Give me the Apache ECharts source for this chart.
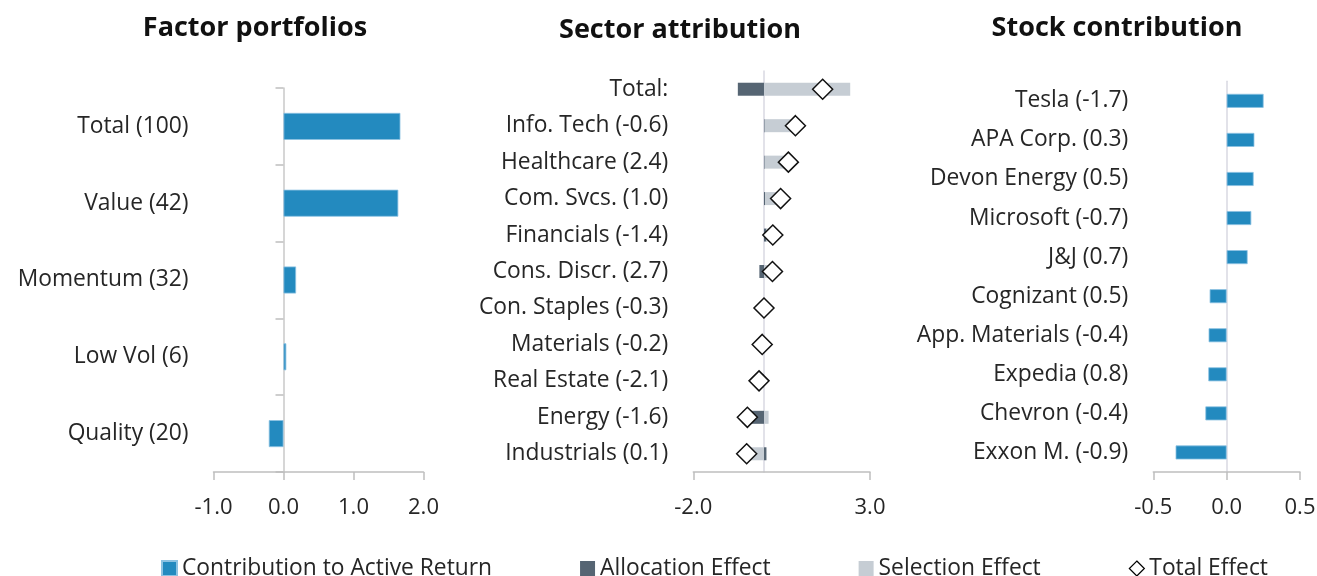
<!DOCTYPE html>
<html>
<head>
<meta charset="utf-8">
<script src="https://cdn.jsdelivr.net/npm/echarts@6/dist/echarts.min.js"></script>
<style>
  html, body { margin: 0; padding: 0; background: #fff; }
  #chart { width: 1317px; height: 576px; }
</style>
</head>
<body>
<div id="chart"></div>
<script>
// factor portfolios
const factors = ['Total (100)', 'Value (42)', 'Momentum (32)', 'Low Vol (6)', 'Quality (20)'];
const factorContrib = [1.67, 1.64, 0.18, 0.04, -0.21];

// sector attribution
const sectors = ['Total:', 'Info. Tech (-0.6)', 'Healthcare (2.4)', 'Com. Svcs. (1.0)', 'Financials (-1.4)',
  'Cons. Discr. (2.7)', 'Con. Staples (-0.3)', 'Materials (-0.2)', 'Real Estate (-2.1)', 'Energy (-1.6)', 'Industrials (0.1)'];
const allocation = [-0.74, 0.02, 0.02, 0.03, 0.07, -0.13, 0.01, -0.02, -0.03, -0.60, 0.07];
const selection = [2.44, 0.87, 0.67, 0.44, 0.18, 0.37, -0.01, -0.03, -0.11, 0.13, -0.56];
const totalEffect = [1.66, 0.89, 0.69, 0.47, 0.25, 0.24, 0.0, -0.05, -0.14, -0.47, -0.49];

// stock contribution
const stocks = ['Tesla (-1.7)', 'APA Corp. (0.3)', 'Devon Energy (0.5)', 'Microsoft (-0.7)', 'J&J (0.7)',
  'Cognizant (0.5)', 'App. Materials (-0.4)', 'Expedia (0.8)', 'Chevron (-0.4)', 'Exxon M. (-0.9)'];
const stockContrib = [0.252, 0.189, 0.184, 0.168, 0.143, -0.116, -0.123, -0.125, -0.145, -0.348];

const FONT = '"Open Sans", "Noto Sans", sans-serif';
const TXT = '#262626';
const BLUE = '#238ABF';
const DARK = '#566573';
const LIGHT = '#C6CDD4';

const chart = echarts.init(document.getElementById('chart'));

function valueAxis(idx, min, max, interval, custom) {
  const ax = {
    type: 'value', gridIndex: idx, min: min, max: max, interval: interval,
    splitLine: { show: false },
    axisLine: { show: true, lineStyle: { color: '#BFBFBF', width: 1.5 } },
    axisTick: { show: true, length: 8, lineStyle: { color: '#BFBFBF', width: 1.5 } },
    axisLabel: { color: TXT, fontSize: 22, fontFamily: FONT, margin: 25,
      formatter: v => v.toFixed(1) }
  };
  if (custom) {
    ax.axisLabel.customValues = custom;
    ax.axisTick.customValues = custom;
  }
  return ax;
}

function catAxis(idx, data, lineColor, ticks) {
  return {
    type: 'category', gridIndex: idx, data: data, inverse: true,
    axisLine: { show: true, onZero: true, lineStyle: { color: lineColor, width: 1.5 } },
    axisTick: { show: ticks, length: 8, lineStyle: { color: '#BFBFBF', width: 1.5 } },
    axisLabel: { color: TXT, fontSize: 22.8, fontFamily: FONT, margin: 25, padding: [4, 0, 0, 0] }
  };
}

const option = {
  animation: false,
  textStyle: { fontFamily: FONT },
  graphic: [
    { type: 'text', x: 255, y: 28, style: { text: 'Factor portfolios', fill: '#111', font: 'bold 27px ' + FONT, textAlign: 'center', textVerticalAlign: 'middle' } },
    { type: 'text', x: 680, y: 30, style: { text: 'Sector attribution', fill: '#111', font: 'bold 27px ' + FONT, textAlign: 'center', textVerticalAlign: 'middle' } },
    { type: 'text', x: 1117, y: 28, style: { text: 'Stock contribution', fill: '#111', font: 'bold 27px ' + FONT, textAlign: 'center', textVerticalAlign: 'middle' } }
  ],
  legend: {
    left: 156, top: 552, itemGap: 88, itemWidth: 15, itemHeight: 15,
    textStyle: { color: TXT, fontSize: 22.8, fontFamily: FONT },
    data: [
      { name: 'Contribution to Active Return', icon: 'rect' },
      { name: 'Allocation Effect', icon: 'rect' },
      { name: 'Selection Effect', icon: 'rect' },
      { name: 'Total Effect', icon: 'diamond', itemStyle: { color: '#fff', borderColor: '#000', borderWidth: 1.2 } }
    ]
  },
  grid: [
    { left: 213.5, top: 88, width: 210, height: 384, outerBoundsMode: 'none' },
    { left: 693.3, top: 71, width: 176.7, height: 401, outerBoundsMode: 'none' },
    { left: 1153.3, top: 81.3, width: 146.7, height: 390.7, outerBoundsMode: 'none' }
  ],
  xAxis: [
    valueAxis(0, -1, 2, 1),
    valueAxis(1, -2, 3, 1, [-2, 3]),
    valueAxis(2, -0.5, 0.5, 0.5)
  ],
  yAxis: [
    catAxis(0, factors, '#C8C8C8', true),
    catAxis(1, sectors, '#D9D9E2', false),
    catAxis(2, stocks, '#D9D9E2', false)
  ],
  series: [
    {
      name: 'Contribution to Active Return', type: 'bar', xAxisIndex: 0, yAxisIndex: 0,
      data: factorContrib, barWidth: 27,
      itemStyle: { color: BLUE, borderColor: '#8CC2E2', borderWidth: 0.8 }
    },
    {
      name: 'Allocation Effect', type: 'bar', xAxisIndex: 1, yAxisIndex: 1, stack: 'attr',
      data: allocation, barWidth: 13, itemStyle: { color: DARK }
    },
    {
      name: 'Selection Effect', type: 'bar', xAxisIndex: 1, yAxisIndex: 1, stack: 'attr',
      data: selection, barWidth: 13, itemStyle: { color: LIGHT }
    },
    {
      name: 'Total Effect', type: 'scatter', xAxisIndex: 1, yAxisIndex: 1,
      data: totalEffect.map((v, i) => [v, sectors[i]]),
      symbol: 'diamond', symbolSize: 20, z: 5,
      itemStyle: { color: '#fff', borderColor: '#111', borderWidth: 1.5, opacity: 1 }
    },
    {
      name: 'Contribution to Active Return', type: 'bar', xAxisIndex: 2, yAxisIndex: 2,
      data: stockContrib, barWidth: 14,
      itemStyle: { color: BLUE, borderColor: '#8CC2E2', borderWidth: 0.8 }
    }
  ]
};

chart.setOption(option);
</script>
</body>
</html>
